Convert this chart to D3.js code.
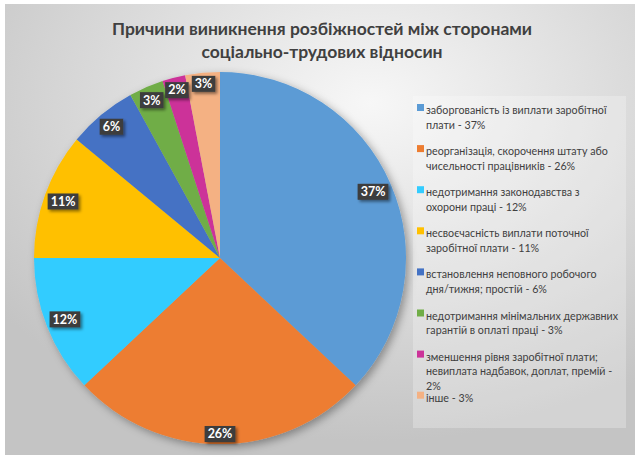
<!DOCTYPE html>
<html>
<head>
<meta charset="utf-8">
<script src="https://cdn.jsdelivr.net/npm/d3@7"></script>
<style>
  body { margin: 0; background: #fff; }
  svg { display: block; }
</style>
</head>
<body>
<svg id="mainsvg" width="640" height="462"></svg>
<script>
const titleLines = ['Причини виникнення розбіжностей між сторонами', 'соціально-трудових відносин'];

// "\n" marks where the legend breaks a line
const categories = [
  'заборгованість із виплати заробітної\nплати',
  'реорганізація, скорочення штату або\nчисельності працівників',
  'недотримання законодавства з\nохорони праці',
  'несвоєчасність виплати поточної\nзаробітної плати',
  'встановлення неповного робочого\nдня/тижня; простій',
  'недотримання мінімальних державних\nгарантій в оплаті праці',
  'зменшення рівня заробітної плати;\nневиплата надбавок, доплат, премій',
  'інше'
];
const values = [37, 26, 12, 11, 6, 3, 2, 3];
const colors = ['#5b9bd5', '#ed7d31', '#33ccff', '#ffc000', '#4472c4', '#70ad47', '#cc3399', '#f4b183'];

const svg = d3.select('#mainsvg');
const width = +svg.attr('width');
const height = +svg.attr('height');
const font = 'Lato, "Open Sans", sans-serif';

const defs = svg.append('defs');
const bg = defs.append('radialGradient').attr('id', 'bg')
  .attr('cx', '58%').attr('cy', '22%').attr('r', '75%');
bg.append('stop').attr('offset', '0%').attr('stop-color', '#f7f7f7');
bg.append('stop').attr('offset', '100%').attr('stop-color', '#c4c4c4');

const shadow = defs.append('filter').attr('id', 'shadow')
  .attr('x', '-20%').attr('y', '-20%').attr('width', '140%').attr('height', '140%');
shadow.append('feDropShadow').attr('dx', 3).attr('dy', 3)
  .attr('stdDeviation', 4).attr('flood-color', '#000').attr('flood-opacity', 0.35);

const boxShadow = defs.append('filter').attr('id', 'boxShadow')
  .attr('x', '-30%').attr('y', '-30%').attr('width', '170%').attr('height', '170%');
boxShadow.append('feDropShadow').attr('dx', 2).attr('dy', 2)
  .attr('stdDeviation', 1.5).attr('flood-color', '#000').attr('flood-opacity', 0.45);

// chart area
const frame = {x: 5, y: 4, w: 630, h: 451};
svg.append('rect')
  .attr('x', frame.x).attr('y', frame.y)
  .attr('width', frame.w).attr('height', frame.h)
  .attr('fill', 'url(#bg)');

// title
svg.append('text')
  .attr('x', 322).attr('y', 35)
  .attr('text-anchor', 'middle')
  .attr('font-family', font).attr('font-weight', 'bold')
  .attr('font-size', 17.5).attr('fill', '#404040')
  .selectAll('tspan').data(titleLines).join('tspan')
  .attr('x', 322).attr('dy', (d, i) => i === 0 ? 0 : 23)
  .text(d => d);

// pie
const cx = 220, cy = 258, r = 186;
const pie = d3.pie().sort(null).value(d => d.value);
const arcs = pie(categories.map((c, i) => ({name: c, value: values[i], color: colors[i]})));
const arc = d3.arc().innerRadius(0).outerRadius(r);

const g = svg.append('g').attr('transform', `translate(${cx}, ${cy})`);

g.append('g').attr('filter', 'url(#shadow)')
  .selectAll('path').data(arcs).join('path')
  .attr('d', arc)
  .attr('fill', d => d.data.color);

// data labels, placed at the inside end of each slice
const labels = g.append('g').selectAll('g').data(arcs).join('g');
labels.append('rect').attr('fill', '#3d3d3d').attr('filter', 'url(#boxShadow)');
labels.append('text')
  .attr('text-anchor', 'middle').attr('dy', '0.35em')
  .attr('font-family', font).attr('font-weight', 'bold')
  .attr('font-size', 12.5).attr('fill', '#fff')
  .text(d => d.data.value + '%');

labels.each(function(d) {
  const sel = d3.select(this);
  const tw = sel.select('text').node().getComputedTextLength();
  const w = tw + 6, h = 16;
  const a = (d.startAngle + d.endAngle) / 2;
  const s = Math.sin(a), c = Math.cos(a);
  const rho = r - 2 - (w / 2 * Math.abs(s) + h / 2 * Math.abs(c));
  sel.attr('transform', `translate(${rho * s}, ${-rho * c})`);
  sel.select('rect').attr('x', -w / 2).attr('y', -h / 2).attr('width', w).attr('height', h);
});

// legend
const legend = {x: 413, y: 96, w: 213, h: 332, maxW: 196, slot: 41.1, line: 14.6};
svg.append('rect')
  .attr('x', legend.x).attr('y', legend.y)
  .attr('width', legend.w).attr('height', legend.h)
  .attr('fill', '#fff').attr('opacity', 0.25);

const items = svg.append('g').selectAll('g').data(arcs).join('g')
  .attr('transform', (d, i) => `translate(${legend.x + 4}, ${legend.y + 14 + i * legend.slot})`);

items.append('rect')
  .attr('x', 0).attr('y', -6)
  .attr('width', 7).attr('height', 7)
  .attr('fill', d => d.data.color);

items.append('text')
  .attr('font-family', font).attr('font-size', 10.7).attr('fill', '#404040')
  .each(function(d) {
    const t = d3.select(this);
    const label = d.data.name + ' - ' + d.data.value + '%';
    let lineNo = 0;
    label.split('\n').forEach((part, k) => {
      let tspan = t.append('tspan').attr('x', 9).attr('y', 4 + lineNo * legend.line);
      let cur = [];
      part.split(' ').forEach(wd => {
        cur.push(wd);
        tspan.text(cur.join(' '));
        if (tspan.node().getComputedTextLength() > legend.maxW && cur.length > 1) {
          cur.pop();
          tspan.text(cur.join(' '));
          cur = [wd];
          lineNo += 1;
          tspan = t.append('tspan').attr('x', 9).attr('y', 4 + lineNo * legend.line).text(wd);
        }
      });
      lineNo += 1;
    });
  });
</script>
</body>
</html>
